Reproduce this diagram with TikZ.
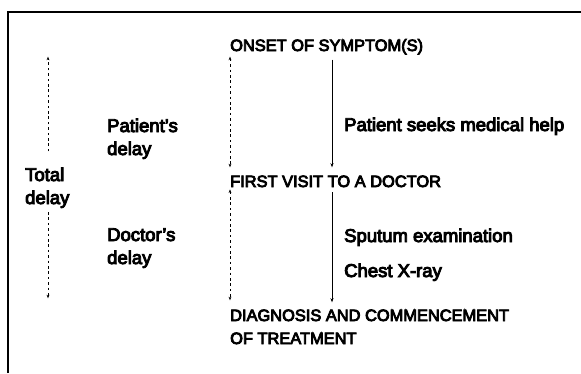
\documentclass[tikz,border=0pt]{standalone}
\usepackage{fontspec}
\setmainfont{Liberation Sans}
\newfontfamily\diagramfont{Liberation Sans}[FakeBold=5]
\usetikzlibrary{arrows.meta,calc,positioning}
\tikzset{
  event label/.style={anchor=base west,inner sep=0pt,align=left,
    font=\diagramfont\fontsize{16.4}{23}\selectfont},
  delay label/.style={anchor=base west,inner sep=0pt,align=left,
    font=\diagramfont\fontsize{18.5}{23}\selectfont},
  frame line/.style={line width=1.3pt},
  step edge/.style={-{Stealth[length=1.5mm,width=1.1mm]},line width=0.8pt},
  delay edge/.style={{Stealth[length=1.3mm,width=1mm]}-{Stealth[length=1.3mm,width=1mm]},
    line width=0.9pt,dash pattern=on 2.6pt off 2.8pt},
  delay up edge/.style={-{Stealth[length=1.3mm,width=1mm]},
    line width=0.9pt,dash pattern=on 2.6pt off 2.8pt}
}
\begin{document}
\begin{tikzpicture}[x=1pt,y=1pt]
    \useasboundingbox (0,0) rectangle (581,-373);
    % frame
    \draw[frame line] (8,-373) -- (8,-12) -- (581,-12);
    % events
    \node[event label] (onset) at (230,-51) {ONSET OF SYMPTOM(S)};
    \node[event label] (firstvisit) at (230,-187) {FIRST VISIT TO A DOCTOR};
    \node[event label] (diagnosis) at (230,-344)
      {DIAGNOSIS AND COMMENCEMENT\\OF TREATMENT};
    % delays
    \node[delay label] (total) at (25,-204) {Total\\delay};
    \node[delay label] (patient) at (107,-155) {Patient’s\\delay};
    \node[delay label] (doctor) at (107,-264) {Doctor’s\\delay};
    \node[delay label] (seekhelp) at (344,-131) {Patient seeks medical help};
    \node[delay label] (sputum) at (344,-242) {Sputum examination};
    \node[delay label] (xray) at (344,-277) {Chest X-ray};
    \coordinate (leftaxis) at (48,0);
    \coordinate (stepaxis) at (332,0);
    % total delay
    \draw[delay up edge,shorten <=16pt,shorten >=2pt]
      (total.north -| leftaxis) -- (onset.south -| leftaxis);
    \draw[delay up edge,shorten <=4pt,shorten >=11pt]
      (total.south -| leftaxis) -- (diagnosis.north -| leftaxis);
    % patient's and doctor's delay
    \draw[delay edge,shorten <=2pt,shorten >=8pt]
      (onset.south west) -- (firstvisit.north west);
    \draw[delay edge,shorten <=2pt,shorten >=9pt]
      (firstvisit.south west) -- (diagnosis.north west);
    % steps
    \draw[step edge,shorten <=5pt,shorten >=8pt]
      (onset.south -| stepaxis) -- (firstvisit.north -| stepaxis);
    \draw[step edge,shorten <=5pt,shorten >=7pt]
      (firstvisit.south -| stepaxis) -- (diagnosis.north -| stepaxis);
  \end{tikzpicture}
\end{document}
